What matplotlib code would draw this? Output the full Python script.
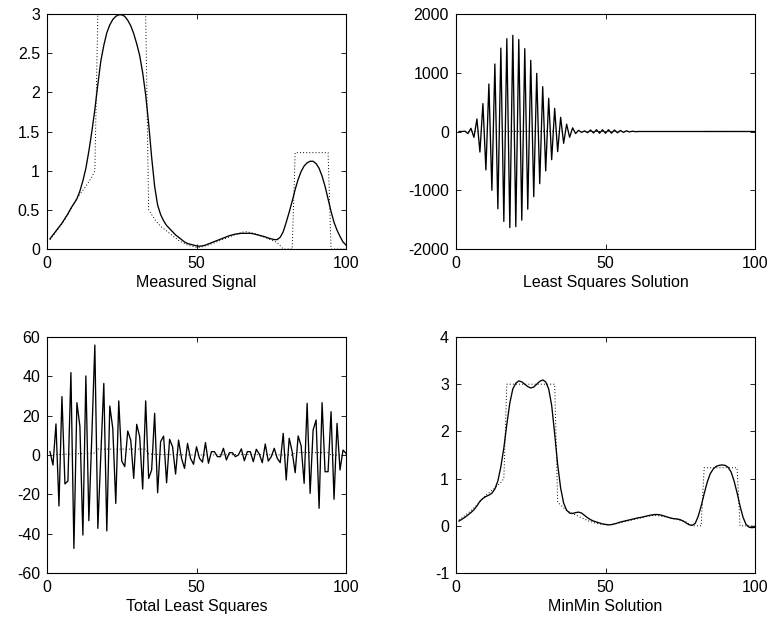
import numpy as np
import matplotlib
matplotlib.use("Agg")
import matplotlib.pyplot as plt

plt.rcParams['font.family'] = ['Liberation Sans', 'DejaVu Sans']
plt.rcParams['axes.unicode_minus'] = False

x = np.arange(1, 101)

true_signal = [0.12, 0.17, 0.22, 0.27, 0.32, 0.38, 0.44, 0.51, 0.58, 0.65,
               0.70, 0.75, 0.80, 0.86, 0.92, 1.00, 3.0, 3.0, 3.0, 3.0,
               3.0, 3.0, 3.0, 3.0, 3.0, 3.0, 3.0, 3.0, 3.0, 3.0,
               3.0, 3.0, 3.0, 0.50, 0.44, 0.38, 0.33, 0.29, 0.26, 0.23,
               0.20, 0.17, 0.14, 0.11, 0.09, 0.07, 0.05, 0.04, 0.03, 0.02,
               0.02, 0.03, 0.04, 0.05, 0.065, 0.08, 0.095, 0.11, 0.125, 0.14,
               0.155, 0.17, 0.185, 0.20, 0.21, 0.22, 0.22, 0.21, 0.20, 0.19,
               0.175, 0.16, 0.145, 0.13, 0.115, 0.10, 0.08, 0.04, 0.0, 0.0,
               0.0, 0.0, 1.23, 1.23, 1.23, 1.23, 1.23, 1.23, 1.23, 1.23,
               1.23, 1.23, 1.23, 1.23, 0.0, 0.0, 0.0, 0.0, 0.0, 0.0]

measured = [0.13, 0.18, 0.23, 0.28, 0.33, 0.39, 0.45, 0.52, 0.58, 0.64,
            0.74, 0.87, 1.03, 1.25, 1.50, 1.78, 2.10, 2.40, 2.60, 2.76,
            2.86, 2.93, 2.97, 2.99, 2.99, 2.97, 2.92, 2.85, 2.75, 2.62,
            2.47, 2.25, 1.97, 1.60, 1.17, 0.80, 0.56, 0.44, 0.36, 0.30,
            0.26, 0.22, 0.18, 0.15, 0.12, 0.09, 0.07, 0.06, 0.05, 0.04,
            0.035, 0.04, 0.05, 0.065, 0.08, 0.095, 0.11, 0.125, 0.14, 0.155,
            0.17, 0.18, 0.19, 0.195, 0.20, 0.20, 0.20, 0.20, 0.195, 0.185,
            0.175, 0.165, 0.155, 0.14, 0.13, 0.12, 0.12, 0.15, 0.22, 0.34,
            0.47, 0.61, 0.76, 0.89, 0.99, 1.06, 1.10, 1.12, 1.12, 1.09,
            1.03, 0.93, 0.80, 0.64, 0.48, 0.34, 0.24, 0.16, 0.09, 0.05]

least_squares = [0, 0, 5, -35, 54, -100, 213, -350, 475, -655,
                 808, -1000, 1149, -1315, 1420, -1530, 1580, -1637, 1637, -1620,
                 1565, -1510, 1410, -1322, 1212, -1109, 990, -888, 763, -670,
                 565, -480, 394, -343, 241, -201, 125, -99, 62, -35,
                 20, -15, 10, -20, 25, -25, 30, -30, 30, -30,
                 30, -28, 25, -22, 18, -15, 12, -8, 5, -3,
                 0, 0, 0, 0, 0, 0, 0, 0, 0, 0,
                 0, 0, 0, 0, 0, 0, 0, 0, 0, 0,
                 0, 0, 0, 0, 0, 0, 0, 0, 0, 0,
                 0, 0, 0, 0, 0, 0, 0, 0, 0, 0]

total_least_squares = [1.7, -5.1, 15.8, -25.9, 29.7, -14.7, -13.2, 41.9, -47.5, 26.6,
                       14.7, -40.7, 40.2, -33.4, 10.0, 55.9, -37.3, 0.0, 36.4, -38.6,
                       24.9, 13.6, -24.6, 27.5, -3.1, -5.9, 12.2, 7.6, -11.9, 15.6,
                       9.3, -17.3, 27.5, -11.9, -7.6, 21.2, -19.2, 6.8, 9.6, -14.1,
                       8.0, 4.2, -9.7, 7.6, -1.7, -6.8, 5.9, -1.7, -4.7, 4.2,
                       -1.7, -3.6, 6.3, -4.2, 1.7, 1.7, -0.85, -0.85, 3.4, -2.5,
                       1.2, 1.2, -0.85, 0.0, 3.1, -2.9, 1.7, 1.7, -3.4, 2.9,
                       0.5, -3.9, 5.6, -3.1, -0.85, 3.4, -1.7, -3.9, 11.0, -12.7,
                       8.5, 1.7, -9.0, 9.7, 4.6, -14.4, 26.3, -19.5, 12.7, 17.8,
                       -27.1, 26.6, -8.5, -8.5, 22.0, -22.5, 16.1, -7.6, 2.5, 0.85]

minmin = [0.10, 0.14, 0.18, 0.23, 0.28, 0.34, 0.42, 0.52, 0.58, 0.62,
          0.65, 0.69, 0.78, 0.95, 1.25, 1.65, 2.15, 2.60, 2.90, 3.02,
          3.07, 3.05, 3.00, 2.95, 2.92, 2.94, 3.00, 3.06, 3.09, 3.05,
          2.90, 2.55, 1.95, 1.30, 0.80, 0.48, 0.33, 0.27, 0.26, 0.28,
          0.29, 0.27, 0.22, 0.17, 0.13, 0.10, 0.08, 0.06, 0.04, 0.03,
          0.02, 0.025, 0.04, 0.06, 0.08, 0.095, 0.11, 0.125, 0.14, 0.155,
          0.17, 0.18, 0.195, 0.21, 0.225, 0.235, 0.24, 0.235, 0.22, 0.20,
          0.18, 0.16, 0.15, 0.145, 0.13, 0.10, 0.06, 0.02, 0.01, 0.05,
          0.20, 0.42, 0.68, 0.92, 1.10, 1.20, 1.26, 1.28, 1.29, 1.28,
          1.24, 1.14, 0.95, 0.70, 0.42, 0.18, 0.03, -0.03, -0.04, -0.03]

titles = ["Measured Signal", "Least Squares Solution", "Total Least Squares", "MinMin Solution"]
series = [measured, least_squares, total_least_squares, minmin]
ylims = [(0, 3), (-2000, 2000), (-60, 60), (-1, 4)]
yticks = [[0, 0.5, 1, 1.5, 2, 2.5, 3],
          [-2000, -1000, 0, 1000, 2000],
          [-60, -40, -20, 0, 20, 40, 60],
          [-1, 0, 1, 2, 3, 4]]
yticklabels = [["0", "0.5", "1", "1.5", "2", "2.5", "3"],
               ["-2000", "-1000", "0", "1000", "2000"],
               ["-60", "-40", "-20", "0", "20", "40", "60"],
               ["-1", "0", "1", "2", "3", "4"]]
xticks = [0, 50, 100]
xticklabels = ["0", "50", "100"]

W, H = 770, 619
fig = plt.figure(figsize=(W / 100, H / 100), dpi=100)
boxes = [(47, 14, 346, 249), (456, 14, 755, 249), (47, 337, 346, 573), (456, 337, 755, 573)]

for i in range(4):
    l, t, r, b = boxes[i]
    ax = fig.add_axes([l / W, 1 - b / H, (r - l) / W, (b - t) / H])
    ax.plot(x, true_signal, color='black', linestyle=(0, (1, 2.2)), linewidth=0.7)
    ax.plot(x, series[i], color='black', linewidth=0.95)
    ax.set_xlim(0, 100)
    ax.set_ylim(*ylims[i])
    ax.set_xticks(xticks)
    ax.set_xticklabels(xticklabels)
    ax.set_yticks(yticks[i])
    ax.set_yticklabels(yticklabels[i])
    ax.tick_params(direction='in', length=3.5, width=0.6, top=True, right=True,
                   labelsize=11.5)
    ax.tick_params(axis='x', pad=5)
    ax.tick_params(axis='y', pad=5)
    for s in ax.spines.values():
        s.set_linewidth(0.8)
    ax.set_xlabel(titles[i], fontsize=11.5, labelpad=3)

fig.savefig("out.png", dpi=100)
